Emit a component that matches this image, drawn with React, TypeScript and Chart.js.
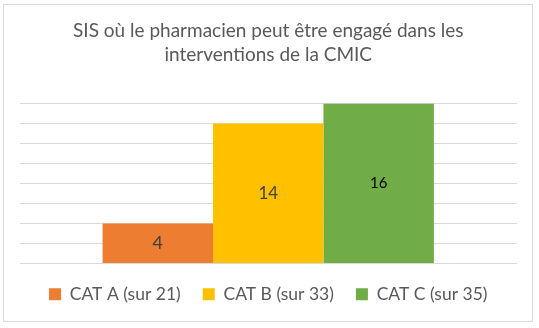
import React, { useEffect, useRef } from "react";
import { Chart, registerables } from "chart.js";

Chart.register(...registerables);

const titleLines = ["SIS où le pharmacien peut être engagé dans les", "interventions de la CMIC"];
const categories = [""];
const seriesNames = ["CAT A (sur 21)", "CAT B (sur 33)", "CAT C (sur 35)"];
const seriesValues = [4, 14, 16];
const seriesColors = ["#ED7D31", "#FFC000", "#70AD47"];
const labelColors = ["#404040", "#404040", "#000000"];
const labelSizes = [18, 17, 15];
const yMax = 16;
const yStep = 2;

const FONT = "Lato, 'Open Sans', sans-serif";

const framePlugin = {
  id: "frame",
  beforeDraw(chart: any) {
    const ctx = chart.ctx;
    ctx.save();
    ctx.fillStyle = "#ffffff";
    ctx.fillRect(0, 0, chart.width, chart.height);
    ctx.strokeStyle = "#D9D9D9";
    ctx.lineWidth = 1;
    ctx.strokeRect(3.5, 4.5, 529, 317);
    ctx.restore();
  },
};

const valueLabelPlugin = {
  id: "valueLabels",
  afterDatasetsDraw(chart: any) {
    const ctx = chart.ctx;
    ctx.save();
    ctx.textAlign = "center";
    ctx.textBaseline = "middle";
    chart.data.datasets.forEach((ds: any, i: number) => {
      const meta = chart.getDatasetMeta(i);
      meta.data.forEach((bar: any, j: number) => {
        const v = ds.data[j];
        const cy = (bar.y + bar.base) / 2;
        ctx.fillStyle = labelColors[i];
        ctx.font = `${labelSizes[i]}px ${FONT}`;
        ctx.fillText(String(v), bar.x, cy);
      });
    });
    ctx.restore();
  },
};

export default function App() {
  const ref = useRef<HTMLCanvasElement>(null);
  useEffect(() => {
    const canvas = ref.current!;
    const chart = new Chart(canvas, {
      type: "bar",
      data: {
        labels: categories,
        datasets: seriesNames.map((name, i) => ({
          label: name,
          data: [seriesValues[i]],
          backgroundColor: seriesColors[i],
          borderWidth: 0,
          barPercentage: 1,
          categoryPercentage: 0.666,
        })),
      },
      options: {
        responsive: false,
        animation: false,
        devicePixelRatio: 1,
        layout: { padding: { top: 19, left: 19.5, right: 22, bottom: 15 } },
        plugins: {
          title: {
            display: true,
            text: titleLines,
            color: "#595959",
            font: { family: FONT, size: 19, weight: "normal", lineHeight: 1.25 },
            padding: { top: 0, bottom: 37 },
          },
          legend: {
            display: true,
            position: "bottom",
            labels: {
              color: "#595959",
              font: { family: FONT, size: 17.5 },
              boxWidth: 12,
              boxHeight: 12,
              padding: 22,
            },
          },
          tooltip: { enabled: false },
        },
        scales: {
          x: { display: false },
          y: {
            min: 0,
            max: yMax,
            ticks: { display: false, stepSize: yStep },
            grid: { color: "#D9D9D9", drawTicks: false },
            border: { display: false },
          },
        },
      },
      plugins: [framePlugin, valueLabelPlugin],
    });
    return () => chart.destroy();
  }, []);
  return (
    <div style={{ position: "absolute", left: 0, top: 0, width: 539, height: 328 }}>
      <canvas ref={ref} width={539} height={328} />
    </div>
  );
}
